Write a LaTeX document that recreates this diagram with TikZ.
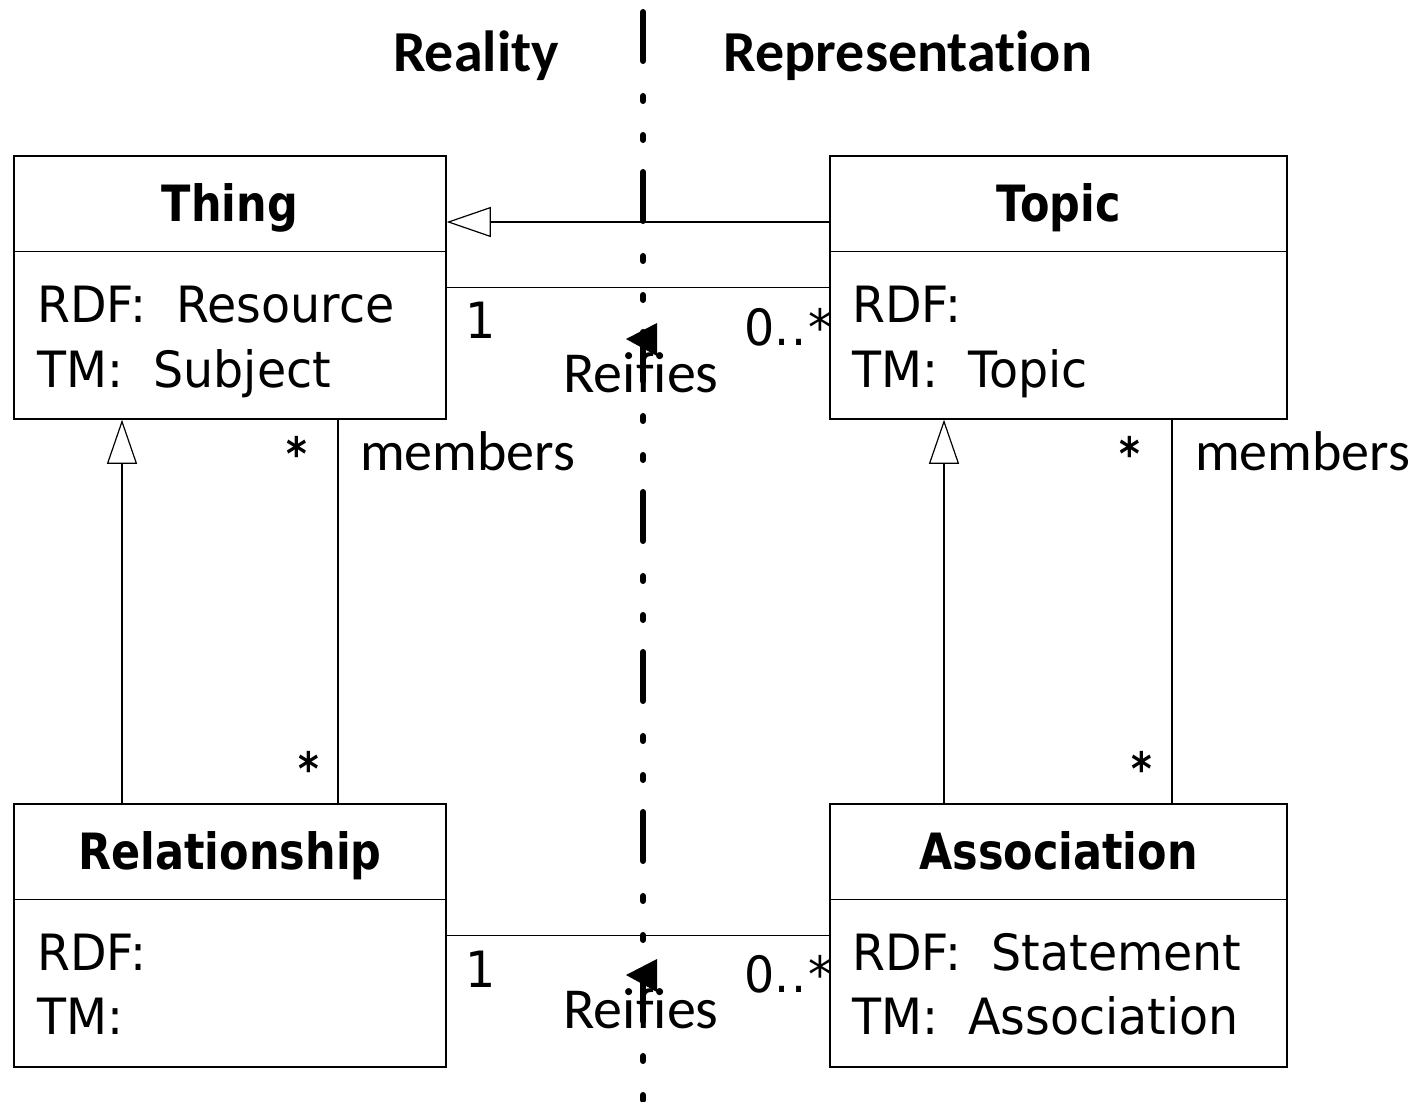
\documentclass[tikz,border=0pt]{standalone}
\usepackage{fontspec}
\setmainfont{DejaVu Sans}[FakeStretch=0.95]
\newfontfamily\namefont{DejaVu Sans}[FakeStretch=0.86]
\newfontfamily\notefont{Carlito}[Ligatures={NoCommon,NoContextual}]
\usetikzlibrary{arrows.meta}

\begin{document}
\begin{tikzpicture}[x=1pt,y=-1pt,
  classbox/.style={draw, line width=1.5pt, minimum width=#1, minimum height=263pt, inner sep=0pt},
  compartment/.style={line width=1.5pt},
  link/.style={line width=1.2pt},
  generalization/.style={link, -{Triangle[open, length=44pt, width=30pt, fill=white]}},
  classname/.style={anchor=base, inner sep=0pt, font=\namefont\bfseries\fontsize{50}{60}\selectfont},
  attr/.style={anchor=base west, inner sep=0pt, font=\fontsize{50}{60}\selectfont},
  mult/.style={inner sep=0pt, font=\fontsize{50}{60}\selectfont},
  star/.style={inner sep=0pt, font=\namefont\bfseries\fontsize{46}{60}\selectfont},
  rolename/.style={anchor=base west, inner sep=0pt, font=\notefont\fontsize{56}{60}\selectfont},
  assocname/.style={anchor=base, inner sep=0pt, font=\notefont\fontsize{58}{60}\selectfont},
  header/.style={anchor=base, inner sep=0pt, font=\notefont\bfseries\fontsize{58}{60}\selectfont},
  divider/.style={line width=6pt, line cap=round,
    dash pattern=on 49pt off 35pt on 5pt off 34pt on 5pt off 32pt},
]
\useasboundingbox (0,0) rectangle (1425,1101);

% realm divider
\coordinate (divtop) at (643,12);
\coordinate (divbot) at (643,1140);
\draw[divider] (divtop) -- (divbot);

% headers
\node[header] (reality) at (476,71) {Reality};
\node[header] (repr) at (908,71) {Representation};

% class boxes
\node[classbox=432pt] (thing) at (230,287.5) {};
\node[classbox=457pt] (topic) at (1058.5,287.5) {};
\node[classbox=432pt] (rel) at (230,935.5) {};
\node[classbox=457pt] (assoc) at (1058.5,935.5) {};

\foreach \b in {thing,topic,rel,assoc}
  \draw[compartment] ([yshift=-96pt]\b.north west) -- ([yshift=-96pt]\b.north east);

% class names
\node[classname] (thingname) at (230,221) {Thing};
\node[classname] (topicname) at (1058.5,221) {Topic};
\node[classname] (relname) at (230,869) {Relationship};
\node[classname] (assocname) at (1058.5,869) {Association};

% attributes
\node[attr] (thingrdf) at (37,322) {RDF:\ \ Resource};
\node[attr] (thingtm) at (37,387) {TM:\ \ Subject};
\node[attr] (topicrdf) at (852,322) {RDF:};
\node[attr] (topictm) at (852,387) {TM:\ \ Topic};
\node[attr] (relrdf) at (37,970) {RDF:};
\node[attr] (reltm) at (37,1034) {TM:};
\node[attr] (assocrdf) at (852,970) {RDF:\ \ Statement};
\node[attr] (assoctm) at (852,1034) {TM:\ \ Association};

% generalizations
\draw[generalization] ([yshift=65.5pt]topic.west) -- ([yshift=65.5pt]thing.east);
\draw[generalization] ([xshift=-108pt]rel.north) -- ([xshift=-108pt]thing.south);
\draw[generalization] ([xshift=-114.5pt]assoc.north) -- ([xshift=-114.5pt]topic.south);

% reification associations
\draw[link] (thing.east) -- (topic.west);
\draw[link] (rel.east) -- (assoc.west);
\node[mult, anchor=base] (m1a) at (481,338) {1};
\node[mult, anchor=base east] (m1b) at (832,345) {0.\kern2pt.\kern1pt*};
\node[mult, anchor=base] (m2a) at (481,987) {1};
\node[mult, anchor=base east] (m2b) at (832,992) {0.\kern2pt.\kern1pt*};
\fill (626,339) -- (657,323) -- (657,356) -- cycle;
\fill (626,975) -- (657,959) -- (657,992) -- cycle;
\node[assocname] (reif1) at (641,392) {Reifies};
\node[assocname] (reif2) at (641,1028) {Reifies};

% membership associations
\draw[link] ([xshift=108pt]thing.south) -- ([xshift=108pt]rel.north);
\draw[link] ([xshift=113.5pt]topic.south) -- ([xshift=113.5pt]assoc.north);
\node[star] (s1) at (297,453) {*};
\node[star] (s2) at (309,768) {*};
\node[star] (s3) at (1130,453) {*};
\node[star] (s4) at (1142,768) {*};
\node[rolename] (mem1) at (360,470) {members};
\node[rolename] (mem2) at (1195,470) {members};
\end{tikzpicture}
\end{document}
